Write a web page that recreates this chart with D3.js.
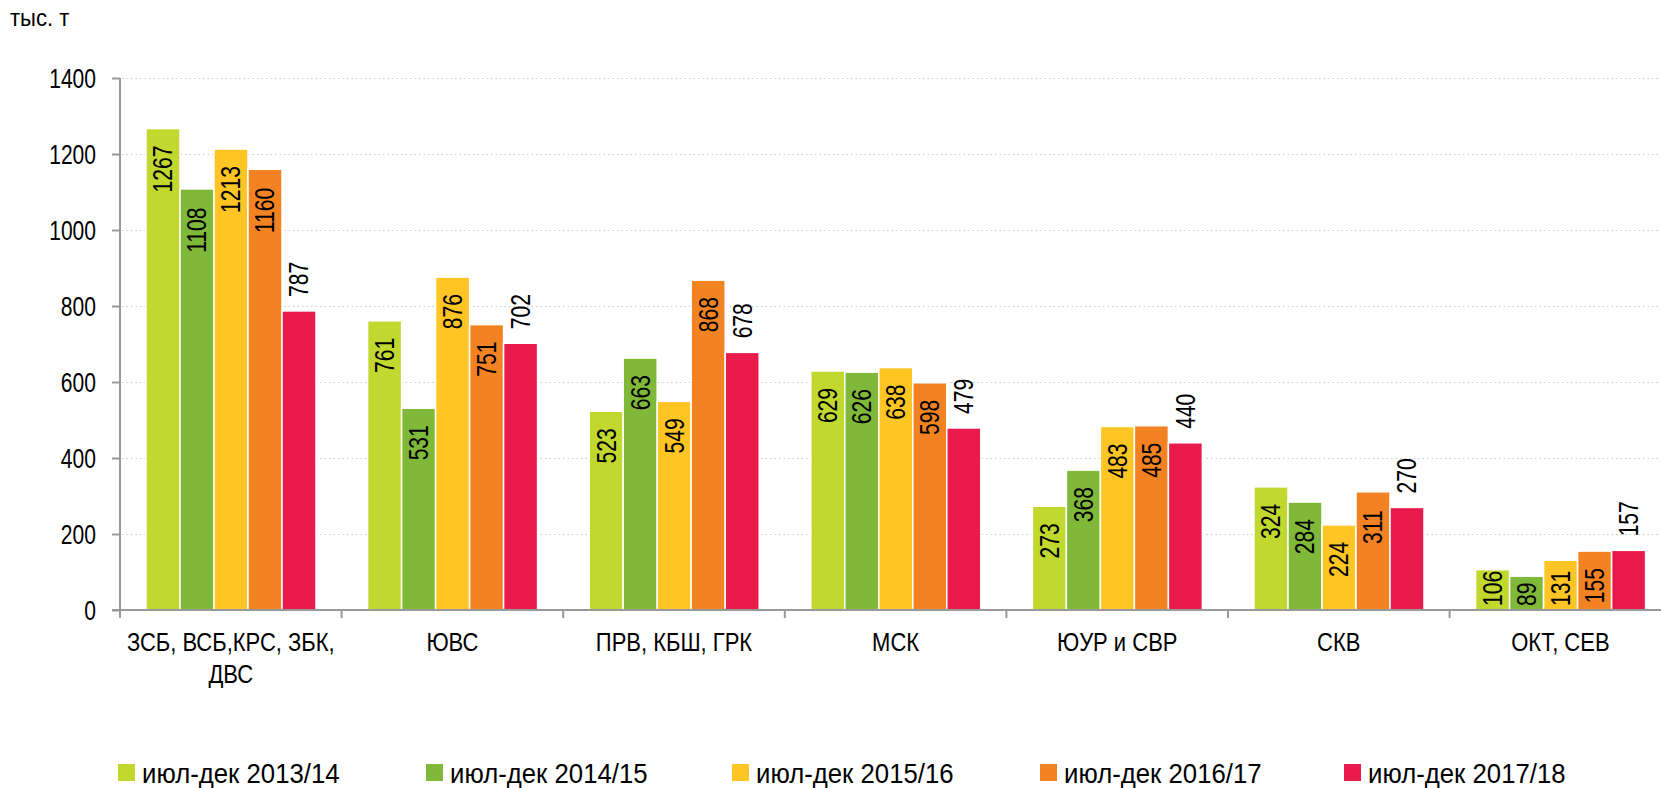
<!DOCTYPE html>
<html>
<head>
<meta charset="utf-8">
<script src="https://cdn.jsdelivr.net/npm/d3@7/dist/d3.min.js"></script>
<style>
body { margin: 0; background: #fff; }
text { font-family: "Liberation Sans Narrow", "Arial Narrow", "Liberation Sans", sans-serif; fill: #000; }
</style>
</head>
<body>
<div id="canvas"></div>
<script>
// ----------------------------------------------------------
// DATA -----------------------------------------------------
// ----------------------------------------------------------
var categories = [
["ЗСБ, ВСБ,КРС, ЗБК,", "ДВС"],
["ЮВС"],
["ПРВ, КБШ, ГРК"],
["МСК"],
["ЮУР и СВР"],
["СКВ"],
["ОКТ, СЕВ"]
];

var series_names = [
"июл-дек 2013/14",
"июл-дек 2014/15",
"июл-дек 2015/16",
"июл-дек 2016/17",
"июл-дек 2017/18"
];

var values_2013 = [1267, 761, 523, 629, 273, 324, 106];
var values_2014 = [1108, 531, 663, 626, 368, 284, 89];
var values_2015 = [1213, 876, 549, 638, 483, 224, 131];
var values_2016 = [1160, 751, 868, 598, 485, 311, 155];
var values_2017 = [787, 702, 678, 479, 440, 270, 157];

var y_ticks = [0, 200, 400, 600, 800, 1000, 1200, 1400];

var unit_label = "тыс. т";

var colors = ["#c1d82f", "#80b83a", "#fec524", "#f38222", "#e91b4d"];

// ----------------------------------------------------------
// STRUCTURE ------------------------------------------------
// ----------------------------------------------------------
var W = 1661, H = 788;
var left = 120, top_y = 78, bottom_y = 610;
var band = 221.6;
var narrow = 0.78; // horizontal squeeze to imitate a condensed face

var all_series = [values_2013, values_2014, values_2015, values_2016, values_2017];
var keys = categories.map((c, i) => "c" + i);

var container = d3.select("#canvas").append("svg")
.attr("width", W)
.attr("height", H)
.style("display", "block");

// scales
var yScale = d3.scaleLinear()
.domain([0, 1400])
.range([bottom_y, top_y]);

var x0 = d3.scaleBand()
.domain(keys)
.range([left, left + band * categories.length])
.padding(0);

var x1 = d3.scaleBand()
.domain(series_names)
.range([26, 196])
.padding(0);

// ----------------------------------------------------------
// GRID -----------------------------------------------------
// ----------------------------------------------------------
container.append("g")
.attr("class", "grid")
.selectAll("line")
.data(y_ticks.filter((d) => d > 0))
.enter()
.append("line")
.attr("x1", left + 2)
.attr("x2", W)
.attr("y1", (d) => yScale(d) + 0.5)
.attr("y2", (d) => yScale(d) + 0.5)
.attr("stroke", "#c8c8c8")
.attr("stroke-width", 1.2)
.attr("stroke-dasharray", "1.5,3");

// ----------------------------------------------------------
// BARS -----------------------------------------------------
// ----------------------------------------------------------
var rows = [];
all_series.forEach((vals, s) => {
vals.forEach((v, c) => {
rows.push({ cat: keys[c], name: series_names[s], s: s, value: v });
});
});

var bar_group = container.append("g").attr("class", "bars");

bar_group.selectAll("rect")
.data(rows)
.enter()
.append("rect")
.attr("x", (d) => x0(d.cat) + x1(d.name))
.attr("y", (d) => yScale(d.value))
.attr("width", x1.bandwidth())
.attr("height", (d) => bottom_y - yScale(d.value))
.attr("fill", (d) => colors[d.s])
.attr("stroke", "#fff")
.attr("stroke-width", 1.5);

// value labels (rotated) - last series outside, others inside end
var label_size = 27;
bar_group.selectAll("text")
.data(rows)
.enter()
.append("text")
.attr("transform", (d) => {
var cx = x0(d.cat) + x1(d.name) + x1.bandwidth() / 2;
var top = yScale(d.value);
var yy;
if (d.s === 4) {
yy = top - 14;
} else {
var len = String(d.value).length * 0.556 * label_size * narrow;
yy = Math.min(top + 17 + len, 606);
}
return `translate(${cx}, ${yy}) rotate(-90) scale(${narrow}, 1)`;
})
.attr("text-anchor", "start")
.attr("dy", "0.35em")
.style("font-size", label_size + "px")
.text((d) => d.value);

// ----------------------------------------------------------
// AXES -----------------------------------------------------
// ----------------------------------------------------------
var axis_color = "#999";

var yAxis = container.append("g")
.attr("transform", `translate(${left}, 0)`)
.call(d3.axisLeft(yScale).tickValues(y_ticks).tickSize(8).tickFormat(""));
yAxis.select(".domain").attr("stroke", axis_color).attr("stroke-width", 2)
.attr("d", `M0,${top_y}V${bottom_y}`);
yAxis.selectAll(".tick line").attr("stroke", axis_color).attr("stroke-width", 2);

// y tick labels
container.append("g")
.selectAll("text")
.data(y_ticks)
.enter()
.append("text")
.attr("transform", (d) => `translate(96, ${yScale(d)}) scale(${narrow}, 1)`)
.attr("text-anchor", "end")
.attr("dy", "0.36em")
.style("font-size", "27px")
.text((d) => d);

var xAxis = container.append("g")
.attr("transform", `translate(0, ${bottom_y})`)
.call(d3.axisBottom(x0).tickSize(0).tickFormat(""));
xAxis.select(".domain").attr("stroke", axis_color).attr("stroke-width", 2)
.attr("d", `M${left - 8},0H${W}`);

// category boundary ticks
xAxis.selectAll(".cat_tick")
.data(keys)
.enter()
.append("line")
.attr("class", "cat_tick")
.attr("x1", (d) => x0(d))
.attr("x2", (d) => x0(d))
.attr("y1", 0)
.attr("y2", 8)
.attr("stroke", axis_color)
.attr("stroke-width", 2);

// category labels
var cat_text = container.append("g")
.selectAll("text")
.data(categories)
.enter()
.append("text")
.attr("transform", (d, i) => `translate(${x0(keys[i]) + band / 2}, 651) scale(0.88, 1)`)
.attr("text-anchor", "middle")
.style("font-size", "25px");

cat_text.selectAll("tspan")
.data((d) => d)
.enter()
.append("tspan")
.attr("x", 0)
.attr("dy", (d, i) => i === 0 ? 0 : 32)
.text((d) => d);

// unit label
container.append("text")
.attr("transform", `translate(10, 26) scale(0.92, 1)`)
.style("font-size", "24px")
.text(unit_label);

// ----------------------------------------------------------
// LEGEND ---------------------------------------------------
// ----------------------------------------------------------
var legend_x = [118, 426, 732, 1040, 1344];

var legend = container.append("g")
.selectAll("g")
.data(series_names)
.enter()
.append("g")
.attr("transform", (d, i) => `translate(${legend_x[i]}, 764)`);

legend.append("rect")
.attr("width", 17)
.attr("height", 17)
.attr("fill", (d, i) => colors[i]);

legend.append("text")
.attr("transform", "translate(24, 19) scale(0.92, 1)")
.style("font-size", "28px")
.text((d) => d);
</script>
</body>
</html>
